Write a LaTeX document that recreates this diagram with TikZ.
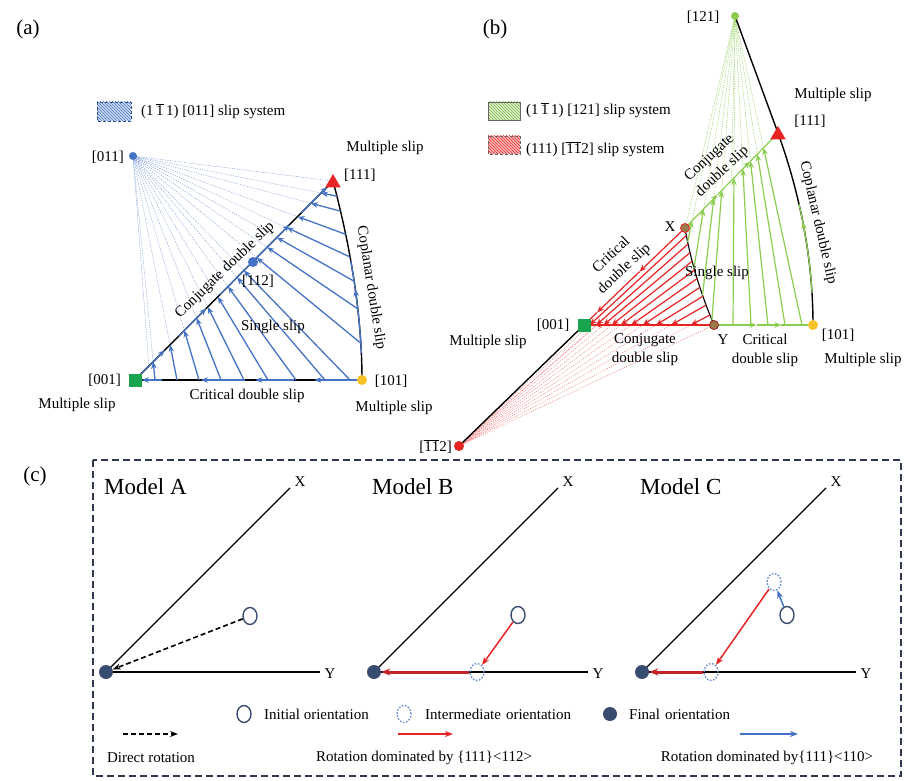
\documentclass[tikz,border=0pt]{standalone}
\usepackage{fontspec}
\setmainfont{Liberation Serif}
\usetikzlibrary{arrows.meta,patterns,calc,shapes.geometric}
\definecolor{blueC}{RGB}{68,114,196}
\definecolor{greenC}{RGB}{140,205,80}
\definecolor{redC}{RGB}{232,35,35}
\definecolor{dredC}{RGB}{196,35,40}
\definecolor{navyC}{RGB}{56,76,112}
\definecolor{boxC}{RGB}{45,55,78}
\definecolor{goldC}{RGB}{245,195,40}
\definecolor{sqC}{RGB}{25,165,80}
\definecolor{xyC}{RGB}{150,125,75}
\newcommand{\ob}[1]{$\overline{\mbox{#1}}$}
% intersection of line (#1,#2)-(#3,#4) with line (#5,#6)-(#7,#8) -> \qix,\qiy
\newcommand{\lineisect}[8]{%
  \pgfmathsetmacro\qdax{(#3-#1)/100}\pgfmathsetmacro\qday{(#4-#2)/100}%
  \pgfmathsetmacro\qdbx{(#7-#5)/100}\pgfmathsetmacro\qdby{(#8-#6)/100}%
  \pgfmathsetmacro\qwx{(#5-#1)/100}\pgfmathsetmacro\qwy{(#6-#2)/100}%
  \pgfmathsetmacro\qs{(\qwx*\qdby-\qwy*\qdbx)/(\qdax*\qdby-\qday*\qdbx)}%
  \pgfmathsetmacro\qix{#1+\qs*\qdax*100}\pgfmathsetmacro\qiy{#2+\qs*\qday*100}}
% cubic bezier point at t=#1 -> \qbx,\qby
\newcommand{\bez}[9]{%
  \pgfmathsetmacro\qbx{(1-#1)*(1-#1)*(1-#1)*#2+3*(1-#1)*(1-#1)*#1*#4+3*(1-#1)*#1*#1*#6+#1*#1*#1*#8}%
  \pgfmathsetmacro\qby{(1-#1)*(1-#1)*(1-#1)*#3+3*(1-#1)*(1-#1)*#1*#5+3*(1-#1)*#1*#1*#7+#1*#1*#1*#9}}
\begin{document}
\begin{tikzpicture}[x=1pt,y=-1pt,
  lbl/.style={font=\fontsize{15}{19}\selectfont, inner sep=1pt},
  tag/.style={font=\fontsize{21}{23}\selectfont, inner sep=0pt},
  mdl/.style={font=\fontsize{23}{25}\selectfont, anchor=west, inner sep=0pt},
  edge/.style={line width=1.4pt, black},
  bl/.style={blueC, line width=1.3pt},
  gl/.style={greenC, line width=1.2pt},
  rl/.style={redC, line width=1.2pt},
  tip/.style={-{Stealth[length=7pt,width=5.5pt]}},
  fan/.style={line width=0.45pt, dash pattern=on 1.2pt off 1.2pt},
  dotm/.style={circle, inner sep=0pt, minimum size=#1},
  tri/.style={regular polygon, regular polygon sides=3, fill=redC, minimum size=18pt, inner sep=0pt},
  sqm/.style={rectangle, fill=sqC, minimum size=13pt, inner sep=0pt},
  initC/.style={ellipse, draw=navyC, line width=1.4pt, minimum width=14pt, minimum height=17pt, inner sep=0pt},
  interC/.style={ellipse, draw=blueC!80, line width=1.4pt, dash pattern=on 1.6pt off 1.6pt, minimum width=14pt, minimum height=17pt, inner sep=0pt},
  finalC/.style={circle, fill=navyC, minimum size=14pt, inner sep=0pt},
  axis/.style={line width=1.3pt, black},
  dsharrow/.style={line width=1.6pt, black, dash pattern=on 5pt off 3pt, -{Stealth[length=8pt,width=6pt]}},
  thinred/.style={redC, line width=1.5pt, -{Stealth[length=8pt,width=6pt]}},
  thickred/.style={dredC, line width=3pt, -{Stealth[length=9pt,width=7pt]}},
  thinblue/.style={blueC, line width=1.5pt, -{Stealth[length=8pt,width=6pt]}},
]
\useasboundingbox (0,0) rectangle (906,781);
\node[tag] (ta) at (28,29) {(a)};
\node[tag] (tb) at (495,29) {(b)};
\node[tag] (tc) at (35,476) {(c)};

%================ panel (a) =================
\fill[blueC!25] (97,102) rectangle (131,121);
\fill[pattern=north west lines, pattern color=blueC] (97,102) rectangle (131,121);
\draw[blueC!70!black, line width=0.4pt, densely dashed] (97,102) rectangle (131,121);
\node[lbl, anchor=west] (la) at (140,111) {(1\,\ob{1}\,1) [011] slip system};

\coordinate (P) at (133,156);
\coordinate (A) at (135,380);
\coordinate (B) at (333,181);
\coordinate (C) at (362,380);
\coordinate (ka1) at (352.3,253.7);
\coordinate (ka2) at (362,320);

\foreach \xv [count=\i] in {155,177,199,221,244,268,296,325,350} {
  \lineisect{133}{156}{\xv}{380}{135}{380}{333}{181}
  \coordinate (sb\i) at (\xv,380);
  \coordinate (eb\i) at (\qix,\qiy);
}
\foreach \tv [count=\i] in {0.07,0.14,0.25,0.36,0.48,0.62,0.8} {
  \bez{\tv}{333}{181}{352.3}{253.7}{362}{320}{362}{380}
  \coordinate (sa\i) at (\qbx,\qby);
  \lineisect{133}{156}{\qbx}{\qby}{135}{380}{333}{181}
  \coordinate (ea\i) at (\qix,\qiy);
}
\bez{0.57}{333}{181}{352.3}{253.7}{362}{320}{362}{380}
\coordinate (am1) at (\qbx,\qby);
\bez{0.52}{333}{181}{352.3}{253.7}{362}{320}{362}{380}
\coordinate (am2) at (\qbx,\qby);

\foreach \i in {1,...,9} \draw[fan, blueC!70] (eb\i) -- (P);
\foreach \i in {1,...,7} \draw[fan, blueC!70] (ea\i) -- (P);
\draw[fan, blueC!70] (B) -- (P);
\draw[fan, blueC!70] ($(A)!0.07!(B)$) -- (P);

\draw[edge] (A) -- (B);
\draw[edge] (A) -- (C);
\draw[edge] (B) .. controls (ka1) and (ka2) .. (C);

\draw[bl, tip] (A) -- ($(A)!0.15!(B)$);
\draw[bl, tip] ($(A)!0.22!(B)$) -- ($(A)!0.36!(B)$);
\draw[bl, tip] ($(A)!0.43!(B)$) -- ($(A)!0.78!(B)$);
\draw[bl, tip] ($(A)!0.84!(B)$) -- ($(A)!0.97!(B)$);
\draw[bl, tip] ($(A)!0.99!(C)$) -- ($(A)!0.79!(C)$);
\draw[bl, tip] ($(A)!0.70!(C)$) -- ($(A)!0.53!(C)$);
\draw[bl, tip] ($(A)!0.485!(C)$) -- ($(A)!0.29!(C)$);
\draw[bl, tip] ($(A)!0.12!(C)$) -- ($(A)!0.03!(C)$);
\begin{scope}
  \clip (330,262) rectangle (380,352);
  \draw[bl] (B) .. controls (ka1) and (ka2) .. (C);
\end{scope}
\draw[bl, tip] (am1) -- (am2);

\foreach \i in {1,...,9} \draw[bl, tip] (sb\i) -- (eb\i);
\foreach \i in {1,...,7} \draw[bl, tip] (sa\i) -- (ea\i);

\node[dotm=8pt, fill=blueC] (n011) at (P) {};
\node[dotm=10pt, fill=blueC] (n112) at (253,262) {};
\node[tri] (n111) at (333,183) {};
\node[sqm] (n001) at (135,380) {};
\node[dotm=10pt, fill=goldC] (n101) at (362,380) {};

\node[lbl, anchor=east] (l011) at (125,157) {[011]};
\node[lbl] (lms1) at (385,148) {Multiple slip};
\node[lbl, anchor=west] (l111) at (343,175) {[111]};
\node[lbl] (l112) at (258,281) {[112]};
\node[lbl, rotate=44] (lcj) at (225,270) {Conjugate double slip};
\node[lbl] (lss) at (273,327) {Single slip};
\node[lbl, rotate=-81] (lcp) at (371,288) {Coplanar double slip};
\node[lbl, anchor=east] (l001) at (122,380) {[001]};
\node[lbl] (lms2) at (77,405) {Multiple slip};
\node[lbl] (lcr) at (247,396) {Critical double slip};
\node[lbl] (l101) at (391,381) {[101]};
\node[lbl] (lms3) at (394,408) {Multiple slip};

%================ panel (b) =================
\fill[greenC!30] (488,102) rectangle (520,120);
\fill[pattern=north west lines, pattern color=greenC!90!black] (488,102) rectangle (520,120);
\draw[black!60, line width=0.4pt] (488,102) rectangle (520,120);
\node[lbl, anchor=west] (lg) at (525,110) {(1\,\ob{1}\,1) [121] slip system};
\fill[redC!30] (488,136) rectangle (520,154);
\fill[pattern=north west lines, pattern color=redC] (488,136) rectangle (520,154);
\draw[black!60, line width=0.4pt, densely dashed] (488,136) rectangle (520,154);
\node[lbl, anchor=west] (lr) at (525,149) {(111) [\ob{1}\ob{1}2] slip system};

\coordinate (G) at (735,16);
\coordinate (B2) at (778,133);
\coordinate (X) at (685,228);
\coordinate (Y) at (714,325);
\coordinate (A2) at (584,325);
\coordinate (C2) at (813,325);
\coordinate (R) at (459,446);
\coordinate (kb1) at (801.3,197.7);
\coordinate (kb2) at (813,261.7);
\coordinate (kx1) at (690.3,259.3);
\coordinate (kx2) at (700,291.7);

\foreach \tv [count=\i] in {0.15,0.42,0.7,0.95} {
  \bez{\tv}{685}{228}{690.3}{259.3}{700}{291.7}{714}{325}
  \coordinate (gc\i) at (\qbx,\qby);
  \lineisect{735}{16}{\qbx}{\qby}{685}{228}{778}{133}
  \coordinate (gce\i) at (\qix,\qiy);
}
\foreach \xv [count=\i] in {733,751,768,785,802} {
  \coordinate (gb\i) at (\xv,325);
  \lineisect{735}{16}{\xv}{325}{685}{228}{778}{133}
  \coordinate (gbe\i) at (\qix,\qiy);
}
\foreach \tv [count=\i] in {0.08,0.17,0.26,0.35,0.44,0.53,0.62,0.71,0.8,0.9} {
  \bez{\tv}{685}{228}{690.3}{259.3}{700}{291.7}{714}{325}
  \coordinate (rc\i) at (\qbx,\qby);
  \lineisect{459}{446}{\qbx}{\qby}{584}{325}{714}{325}
  \coordinate (rce\i) at (\qix,\qiy);
}
\bez{0.52}{778}{133}{801.3}{197.7}{813}{261.7}{813}{325}
\coordinate (bm1) at (\qbx,\qby);
\bez{0.46}{778}{133}{801.3}{197.7}{813}{261.7}{813}{325}
\coordinate (bm2) at (\qbx,\qby);

\foreach \i in {1,...,4} \draw[fan, greenC] (gce\i) -- (G);
\foreach \i in {1,...,5} \draw[fan, greenC] (gbe\i) -- (G);
\draw[fan, greenC] (X) -- (G);
\draw[fan, greenC] ($(X)!0.5!(B2)$) -- (G);
\foreach \i in {1,...,10} \draw[fan, redC!60] (rce\i) -- (R);
\draw[fan, redC!60] (Y) -- (R);
\draw[fan, redC!60] ($(A2)!0.1!(Y)$) -- (R);

\draw[edge] (R) -- (A2);
\draw[edge] (G) -- (B2);
\draw[edge] (B2) .. controls (kb1) and (kb2) .. (C2);
\draw[line width=1.1pt] (X) .. controls (kx1) and (kx2) .. (Y);

\draw[rl, tip] (X) -- ($(X)!0.45!(A2)$);
\draw[rl, tip] ($(X)!0.45!(A2)$) -- ($(X)!0.87!(A2)$);
\draw[rl] ($(X)!0.87!(A2)$) -- (A2);
\draw[rl, line width=1.6pt] (Y) -- (A2);
\draw[rl, tip] ($(A2)!0.2!(Y)$) -- ($(A2)!0.08!(Y)$);

\draw[gl, tip] (X) -- ($(X)!0.35!(B2)$);
\draw[gl, tip] ($(X)!0.35!(B2)$) -- ($(X)!0.7!(B2)$);
\draw[gl] ($(X)!0.7!(B2)$) -- (B2);
\draw[gl, tip] (Y) -- ($(Y)!0.43!(C2)$);
\draw[gl, tip] ($(Y)!0.43!(C2)$) -- ($(Y)!0.68!(C2)$);
\draw[gl] ($(Y)!0.68!(C2)$) -- (C2);
\begin{scope}
  \clip (780,205) rectangle (830,292);
  \draw[gl] (B2) .. controls (kb1) and (kb2) .. (C2);
\end{scope}
\draw[gl, tip] (bm1) -- (bm2);

\foreach \i in {1,...,4} \draw[gl, tip] (gc\i) -- (gce\i);
\foreach \i in {1,...,5} \draw[gl, tip] (gb\i) -- (gbe\i);
\foreach \i in {1,...,10} \draw[rl, tip] (rc\i) -- (rce\i);

\node[dotm=8pt, fill=greenC] (n121) at (G) {};
\node[tri] (n111b) at (778,135) {};
\node[dotm=9pt, fill=xyC, draw=redC, line width=0.8pt] (nX) at (X) {};
\node[dotm=9pt, fill=xyC, draw=redC!70!black, line width=0.8pt] (nY) at (Y) {};
\node[sqm] (n001b) at (584,325) {};
\node[dotm=10pt, fill=goldC] (n101b) at (C2) {};
\node[dotm=10pt, fill=redC] (n112b) at (R) {};

\node[lbl] (l121) at (703,17) {[121]};
\node[lbl] (lms4) at (833,95) {Multiple slip};
\node[lbl] (l111b) at (810,121) {[111]};
\node[lbl, rotate=43, align=center] (lcjb) at (716,165) {Conjugate\\double slip};
\node[lbl, rotate=-77] (lcpb) at (818,223) {Coplanar double slip};
\node[lbl] (lX) at (670,227) {X};
\node[lbl, rotate=43, align=center] (lcrb) at (618,262) {Critical\\double slip};
\node[lbl] (lssb) at (717,273) {Single slip};
\node[lbl] (l001b) at (553,325) {[001]};
\node[lbl] (lms5) at (488,342) {Multiple slip};
\node[lbl, align=center] (lcjc) at (645,350) {Conjugate\\double slip};
\node[lbl] (lY) at (723,340) {Y};
\node[lbl, align=center] (lcrc) at (765,350) {Critical\\double slip};
\node[lbl] (l101b) at (838,335) {[101]};
\node[lbl] (lms6) at (863,360) {Multiple slip};
\node[lbl, anchor=east] (l112b) at (453,447) {[\ob{1}\ob{1}2]};

%================ panel (c) =================
\draw[boxC, line width=1.4pt, dash pattern=on 7pt off 4pt] (93,460) rectangle (901,776);

% Model A
\node[mdl] (mA) at (104,487) {Model A};
\coordinate (oA) at (106,672);
\coordinate (xA) at (290,488);
\coordinate (yA) at (320,672);
\draw[axis] (oA) -- (xA);
\draw[axis] (oA) -- (yA);
\node[lbl] (lxA) at (300,482) {X};
\node[lbl] (lyA) at (330,674) {Y};
\node[finalC] (fA) at (oA) {};
\node[initC] (iA) at (250,616) {};
\draw[dsharrow] (iA) -- (fA);

% Model B
\node[mdl] (mB) at (372,487) {Model B};
\coordinate (oB) at (374,672);
\coordinate (xB) at (558,488);
\coordinate (yB) at (588,672);
\draw[axis] (oB) -- (xB);
\draw[axis] (oB) -- (yB);
\node[lbl] (lxB) at (568,482) {X};
\node[lbl] (lyB) at (598,674) {Y};
\node[finalC] (fB) at (oB) {};
\node[initC] (iB) at (518,615) {};
\node[interC] (mBn) at (477,672) {};
\draw[thinred] (iB) -- (mBn);
\draw[thickred] (mBn) -- (fB);

% Model C
\node[mdl] (mC) at (640,487) {Model C};
\coordinate (oC) at (642,672);
\coordinate (xC) at (826,488);
\coordinate (yC) at (856,672);
\draw[axis] (oC) -- (xC);
\draw[axis] (oC) -- (yC);
\node[lbl] (lxC) at (836,482) {X};
\node[lbl] (lyC) at (866,674) {Y};
\node[finalC] (fC) at (oC) {};
\node[initC] (iC) at (787,615) {};
\node[interC] (uC) at (774,582) {};
\node[interC] (wC) at (711,672) {};
\draw[thinblue] (iC) -- (uC);
\draw[thinred] (uC) -- (wC);
\draw[thickred] (wC) -- (fC);

% legend
\node[initC] (lgi) at (244,714) {};
\node[lbl, anchor=west] (lgit) at (263,714) {Initial orientation};
\node[interC] (lgm) at (404,714) {};
\node[lbl, anchor=west] (lgmt) at (424,714) {Intermediate\hspace{5pt}orientation};
\node[finalC] (lgf) at (610,714) {};
\node[lbl, anchor=west] (lgft) at (628,714) {Final\hspace{5pt}orientation};

\coordinate (d1) at (123,734);
\coordinate (d2) at (178,734);
\draw[dsharrow, line width=1.4pt] (d1) -- (d2);
\coordinate (r1) at (398,734);
\coordinate (r2) at (453,734);
\draw[thinred] (r1) -- (r2);
\coordinate (b1) at (740,734);
\coordinate (b2) at (798,734);
\draw[thinblue] (b1) -- (b2);
\node[lbl] (ldr) at (151,758) {Direct rotation};
\node[lbl] (lr1) at (424,758) {Rotation dominated by \{111\}<112>};
\node[lbl] (lr2) at (767,758) {Rotation dominated by\{111\}<110>};
\end{tikzpicture}
\end{document}
